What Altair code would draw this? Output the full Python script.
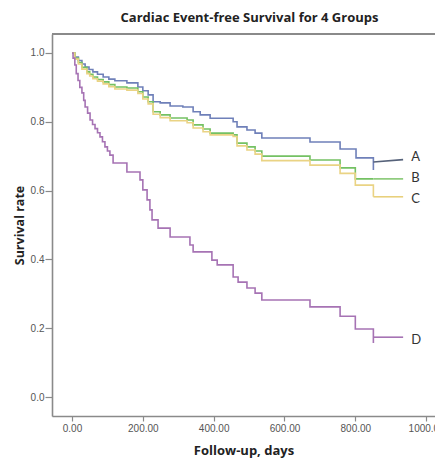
import altair as alt
import pandas as pd

# ---- data ----
A_days = [0, 8, 18, 28, 37, 48, 59, 72, 88, 104, 121, 155, 186, 200, 215, 229, 249, 277, 313, 342, 362, 390, 455, 466, 494, 517, 536, 672, 757, 802, 851]
A_surv = [1.0, 0.988, 0.978, 0.968, 0.959, 0.952, 0.945, 0.938, 0.93, 0.924, 0.919, 0.913, 0.901, 0.89, 0.878, 0.858, 0.855, 0.846, 0.843, 0.829, 0.82, 0.81, 0.80, 0.785, 0.776, 0.767, 0.753, 0.741, 0.721, 0.695, 0.66]

B_days = [0, 8, 18, 28, 42, 50, 59, 72, 88, 104, 121, 155, 186, 200, 215, 229, 249, 277, 325, 342, 370, 390, 455, 466, 494, 517, 536, 672, 757, 800, 851]
B_surv = [1.0, 0.985, 0.972, 0.958, 0.945, 0.938, 0.93, 0.923, 0.916, 0.908, 0.901, 0.898, 0.887, 0.872, 0.858, 0.829, 0.82, 0.811, 0.805, 0.791, 0.779, 0.767, 0.762, 0.738, 0.727, 0.715, 0.70, 0.689, 0.666, 0.634, 0.634]

C_days = [0, 8, 18, 28, 42, 50, 59, 72, 88, 104, 121, 155, 186, 200, 215, 229, 249, 277, 325, 342, 370, 390, 455, 466, 494, 517, 536, 672, 757, 800, 851]
C_surv = [1.0, 0.982, 0.968, 0.953, 0.94, 0.933, 0.925, 0.918, 0.91, 0.902, 0.895, 0.892, 0.882, 0.866, 0.852, 0.822, 0.812, 0.803, 0.797, 0.782, 0.771, 0.762, 0.757, 0.73, 0.718, 0.706, 0.687, 0.674, 0.65, 0.616, 0.582]

D_days = [0, 3, 8, 12, 17, 22, 28, 33, 37, 44, 51, 58, 65, 72, 79, 86, 93, 100, 107, 116, 155, 192, 200, 212, 220, 226, 243, 277, 333, 342, 395, 410, 455, 469, 494, 517, 536, 672, 757, 800, 851]
D_surv = [1.0, 0.985, 0.965, 0.94, 0.92, 0.9, 0.884, 0.862, 0.843, 0.825, 0.805, 0.792, 0.78, 0.768, 0.756, 0.742, 0.727, 0.715, 0.703, 0.68, 0.654, 0.631, 0.602, 0.573, 0.544, 0.515, 0.491, 0.465, 0.442, 0.422, 0.398, 0.384, 0.349, 0.334, 0.317, 0.302, 0.282, 0.262, 0.235, 0.198, 0.157]

groups = ["A", "B", "C", "D"]
colors = ["#6f80b9", "#74c163", "#ead384", "#a673b4"]
leader_colors = ["#56627a", "#86c873", "#e8d07c", "#a673b4"]
leader_start = [851, 851, 851, 851]
leader_end = [935, 935, 935, 935]
leader_y1 = [0.683, 0.634, 0.582, 0.174]
leader_y2 = [0.690, 0.634, 0.582, 0.174]
label_x = [958, 958, 958, 958]
label_y = [0.698, 0.637, 0.576, 0.166]

x_ticks = [0, 200, 400, 600, 800, 1000]
y_ticks = [0.0, 0.2, 0.4, 0.6, 0.8, 1.0]

# ---- build tables ----
rows = []
for g, d, s in zip(groups, [A_days, B_days, C_days, D_days], [A_surv, B_surv, C_surv, D_surv]):
    for i, (dd, ss) in enumerate(zip(d, s)):
        rows.append({"group": g, "day": dd, "surv": ss, "order": i})
curves = pd.DataFrame(rows)

leaders = pd.DataFrame({"group": groups, "x1": leader_start, "x2": leader_end,
                        "y1": leader_y1, "y2": leader_y2})
labels = pd.DataFrame({"group": groups, "x": label_x, "y": label_y})

W, H = 383, 382
xscale = alt.Scale(domain=[-56.5, 1025], nice=False, zero=False)
yscale = alt.Scale(domain=[-0.055, 1.055], nice=False, zero=False)

xaxis = alt.Axis(values=x_ticks, format=".2f", title="Follow-up, days", grid=False,
                 labelFont="Liberation Sans", labelFontSize=10, labelColor="#555",
                 tickColor="#8a8a8a", tickSize=5, tickWidth=1.2,
                 domainColor="#8a8a8a", domainWidth=1.6,
                 titleFont="Open Sans", titleFontSize=13, titleFontWeight="bold",
                 titleColor="#222", titlePadding=11, labelPadding=2)
yaxis = alt.Axis(values=y_ticks, format=".1f", title="Survival rate", grid=False,
                 labelFont="Liberation Sans", labelFontSize=10, labelColor="#555",
                 tickColor="#8a8a8a", tickSize=7, tickWidth=1.2,
                 domainColor="#8a8a8a", domainWidth=1.6,
                 titleFont="Open Sans", titleFontSize=12.5, titleFontWeight="bold",
                 titleColor="#222", titlePadding=4, labelPadding=1)

color_scale = alt.Scale(domain=groups, range=colors)
lead_scale = alt.Scale(domain=groups, range=leader_colors)

lines = alt.Chart(curves).mark_line(interpolate="step-after", strokeWidth=1.6).encode(
    x=alt.X("day:Q", scale=xscale, axis=xaxis),
    y=alt.Y("surv:Q", scale=yscale, axis=yaxis),
    color=alt.Color("group:N", scale=color_scale, legend=None),
    order="order:Q",
)

lead = alt.Chart(leaders).mark_rule(strokeWidth=1.6).encode(
    x="x1:Q", x2="x2:Q", y="y1:Q", y2="y2:Q",
    color=alt.Color("group:N", scale=lead_scale, legend=None),
)

text = alt.Chart(labels).mark_text(align="left", baseline="middle", fontSize=13,
                                   font="Lato", color="#333").encode(
    x="x:Q", y="y:Q", text="group:N"
)

topline = alt.Chart(labels).mark_rule(color="#8a8a8a", strokeWidth=1.8).encode(
    x=alt.value(0), x2=alt.value(W + 5), y=alt.value(0)
)

chart = alt.layer(lines, lead, text, topline).resolve_scale(color="independent").properties(
    width=W, height=H,
    title=alt.TitleParams("Cardiac Event-free Survival for 4 Groups", font="Open Sans",
                          fontSize=13, fontWeight="bold", color="#222",
                          anchor="middle", offset=8, dx=6),
    autosize=alt.AutoSizeParams(type="none"),
    padding={"left": 44, "top": 26, "right": 0, "bottom": 45},
).configure_view(stroke=None, fill="#f0f0f0").configure(background="white")

chart.save("out.html", embed_options={"renderer": "svg", "actions": False})
